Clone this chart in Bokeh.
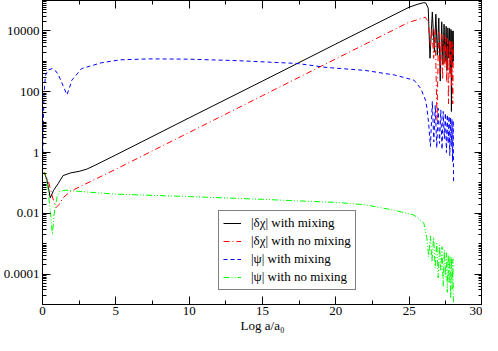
from bokeh.plotting import figure
from bokeh.models import (LinearAxis, LogAxis, FixedTicker,
                          CustomJSTickFormatter, Legend, LegendItem, Range1d)
from bokeh.embed import file_html
from bokeh.resources import INLINE

FONT = "Liberation Serif"

# ---- data (y given as log10 of the plotted magnitude) ----
chi_mix_x = [0, 0.13, 0.3, 0.53, 0.75, 1.07, 1.4, 1.93, 2.5, 3.0, 3.5, 4, 5, 10, 15, 20, 25, 25.6, 26.0, 26.13,
             26.3, 26.42, 26.58, 26.72, 26.82, 26.92, 27.02, 27.12, 27.22, 27.3, 27.38, 27.45, 27.52,
             27.58, 27.64, 27.7, 27.75, 27.8, 27.85, 27.88, 27.92, 27.96, 28.0, 28.02]
chi_mix_log = [-0.72, -0.66, -0.9, -1.49, -1.25, -1.02, -0.76, -0.67, -0.62, -0.55, -0.44, -0.32, -0.08, 1.14, 2.35, 3.57, 4.78, 4.88, 4.93, 4.92,
               4.75, 3.1, 4.62, 3.3, 4.55, 3.2, 4.42, 2.35, 4.3, 2.9, 4.22, 3.0, 4.15,
               2.7, 4.1, 3.1, 4.08, 2.6, 4.05, 1.35, 4.0, 2.9, 4.0, 3.0]

chi_nomix_x = [0, 0.13, 0.4, 0.7, 0.93, 1.15, 1.4, 1.93, 5, 10, 15, 20, 25, 25.67, 26.0, 26.1,
               26.3, 26.45, 26.55, 26.67, 26.77, 26.9, 27.0, 27.1, 27.2, 27.28, 27.36, 27.43, 27.5,
               27.56, 27.62, 27.68, 27.74, 27.79, 27.84, 27.88, 27.93, 27.97, 28.02]
chi_nomix_log = [-0.72, -0.66, -0.95, -1.5, -1.81, -1.7, -1.49, -1.27, -0.55, 0.66, 1.87, 3.08, 4.29, 4.38, 4.44, 4.45,
                 4.3, 3.5, 4.1, 3.1, 4.05, 1.05, 3.95, 2.6, 3.9, 2.4, 3.85, 2.8, 3.8,
                 2.3, 3.75, 1.6, 3.7, 2.5, 3.7, 2.2, 3.65, 1.6, 3.6]

psi_mix_x = [0, 0.05, 0.1, 0.2, 0.4, 0.67, 0.9, 1.1, 1.4, 1.67, 1.85, 2, 2.67, 4, 5.33, 7.33, 10, 13.33,
             16, 17.33, 19.33, 22, 24, 25.33, 25.8, 26.13, 26.2, 26.33, 26.45, 26.58, 26.68, 26.78,
             26.88, 26.98, 27.07, 27.16, 27.24, 27.32, 27.4, 27.47, 27.54, 27.6, 27.66, 27.72,
             27.77, 27.82, 27.87, 27.92, 27.96, 28.0, 28.03]
psi_mix_log = [-0.7, 0.8, 1.9, 2.54, 2.72, 2.76, 2.68, 2.54, 2.2, 1.9, 2.15, 2.38, 2.76, 2.95, 3.05, 3.08, 3.07, 3.02,
               2.96, 2.93, 2.8, 2.7, 2.55, 2.38, 2.1, 1.7, 1.49, 0.95, 0.2, 1.68, 0.35, 1.55,
               0.15, 1.45, 0.3, 1.4, 0.1, 1.35, 0.45, 1.3, 0.0, 1.25, 0.3, 1.2,
               -0.1, 1.15, 0.2, 1.1, -0.3, 1.05, -1.0]

psi_nomix_x = [0, 0.13, 0.35, 0.55, 0.67, 0.8, 1.0, 1.2, 1.6, 3, 5, 10, 15, 17.33, 20, 22, 24, 25.33, 26.0,
               26.2, 26.33, 26.45, 26.55, 26.67, 26.77, 26.88, 26.98, 27.07, 27.16, 27.24, 27.32, 27.4,
               27.47, 27.54, 27.6, 27.66, 27.72, 27.78, 27.83, 27.88, 27.93, 27.98, 28.02]
psi_nomix_log = [-0.72, -0.66, -1.1, -2.0, -2.7, -2.0, -1.45, -1.27, -1.24, -1.3, -1.37, -1.45, -1.54, -1.59, -1.64, -1.72, -1.9, -2.06, -2.32,
                 -2.79, -3.43, -2.75, -3.6, -2.79, -3.8, -2.95, -4.13, -3.05, -3.9, -3.1, -4.4, -3.2,
                 -4.1, -3.3, -4.6, -3.35, -4.3, -3.4, -4.8, -3.45, -4.5, -3.5, -4.95]

labels = ["|δχ| with mixing", "|δχ| with no mixing", "|ψ| with mixing", "|ψ| with no mixing"]
y_major = [1e-4, 1e-2, 1, 1e2, 1e4]
x_major = [0, 5, 10, 15, 20, 25, 30]

p = figure(width=482, height=335, x_range=Range1d(0, 30), y_range=Range1d(1e-5, 1e5),
           y_axis_type="log", output_backend="svg", toolbar_location=None,
           min_border_left=0, min_border_right=0, min_border_top=0, min_border_bottom=0)
p.grid.visible = False
p.outline_line_color = "black"
p.background_fill_color = "white"
p.border_fill_color = "white"

y_minor = []
for d in range(-5, 5):
    for k in range(2, 10):
        y_minor.append(k * 10.0 ** d)
y_minor += [1e-5, 1e-3, 1e-1, 1e1, 1e3, 1e5]
yticker = FixedTicker(ticks=y_major, minor_ticks=y_minor)
xticker = FixedTicker(ticks=x_major, minor_ticks=[2.5, 7.5, 12.5, 17.5, 22.5, 27.5])
fmt = CustomJSTickFormatter(code="return tick.toString();")
blank = CustomJSTickFormatter(code="return '';")


def style(ax):
    ax.axis_line_color = "black"
    ax.axis_line_width = 1
    ax.major_tick_in = 8
    ax.major_tick_out = 0
    ax.minor_tick_in = 4
    ax.minor_tick_out = 0
    ax.major_tick_line_color = "black"
    ax.minor_tick_line_color = "black"
    ax.major_label_text_font = FONT
    ax.major_label_text_color = "black"
    ax.major_label_text_font_size = "13px"


left = p.yaxis[0]
left.ticker = yticker
left.formatter = fmt
style(left)
left.major_label_standoff = 3

bottom = p.xaxis[0]
bottom.ticker = xticker
style(bottom)
bottom.major_label_standoff = 2
bottom.axis_label = "Log a/a₀"
bottom.axis_label_text_font = FONT
bottom.axis_label_text_font_size = "13px"
bottom.axis_label_text_font_style = "normal"
bottom.axis_label_text_color = "black"
bottom.axis_label_standoff = 0

right = LogAxis(ticker=yticker, formatter=blank)
style(right)
right.major_label_standoff = 0
p.add_layout(right, "right")
top = LinearAxis(ticker=xticker, formatter=blank)
style(top)
top.major_label_standoff = 0
p.add_layout(top, "above")

r1 = p.line(chi_mix_x, [10 ** v for v in chi_mix_log], line_color="black", line_width=1)
r2 = p.line(chi_nomix_x, [10 ** v for v in chi_nomix_log], line_color="red", line_width=1,
            line_dash="6 3 1 3")
r3 = p.line(psi_mix_x, [10 ** v for v in psi_mix_log], line_color="blue", line_width=1,
            line_dash="4 3")
r4 = p.line(psi_nomix_x, [10 ** v for v in psi_nomix_log], line_color="#00ff00", line_width=1,
            line_dash="6 2 1 2 1 2")

legend = Legend(items=[LegendItem(label=labels[0], renderers=[r1]),
                       LegendItem(label=labels[1], renderers=[r2]),
                       LegendItem(label=labels[2], renderers=[r3]),
                       LegendItem(label=labels[3], renderers=[r4])],
                location=(176, 14))
legend.label_text_font = FONT
legend.label_text_font_size = "13px"
legend.label_text_color = "black"
legend.border_line_color = "black"
legend.border_line_width = 1
legend.background_fill_color = "white"
legend.background_fill_alpha = 1
legend.padding = 4
legend.spacing = 2
legend.margin = 0
legend.glyph_width = 18
legend.glyph_height = 14
legend.label_height = 14
legend.label_standoff = 10
p.add_layout(legend)

open("out.html", "w").write(file_html(p, INLINE))
